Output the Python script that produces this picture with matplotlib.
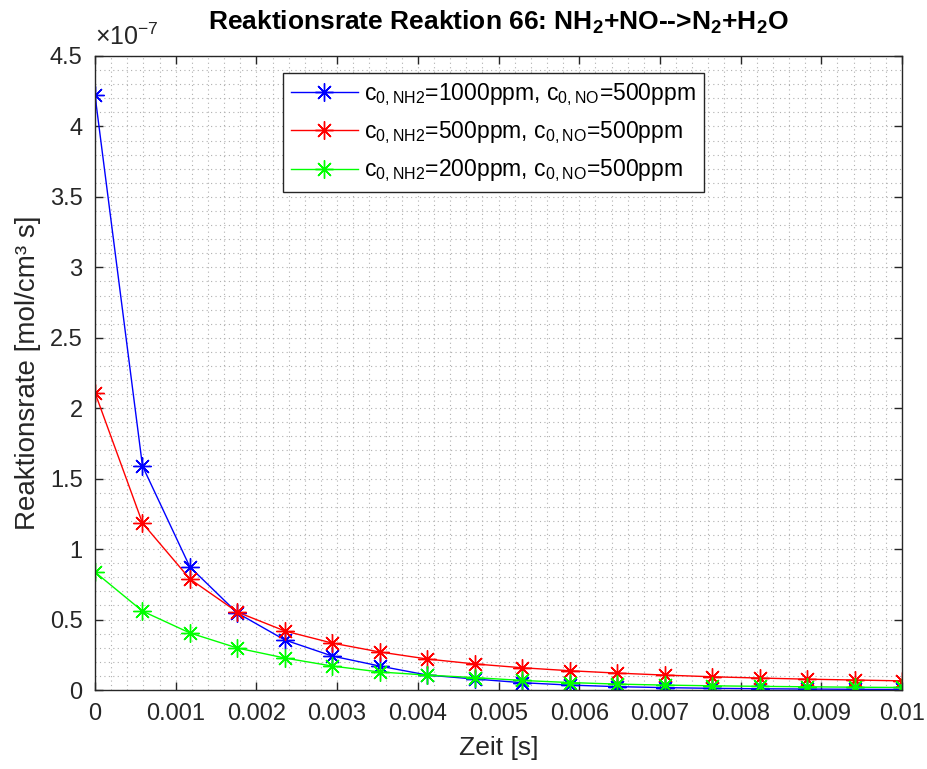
import numpy as np
import matplotlib
matplotlib.use("Agg")
import matplotlib.pyplot as plt
from matplotlib.ticker import MultipleLocator, FuncFormatter

plt.rcParams['font.family'] = ['Liberation Sans', 'DejaVu Sans']
plt.rcParams['mathtext.fontset'] = 'custom'
plt.rcParams['mathtext.rm'] = 'Liberation Sans'
plt.rcParams['mathtext.bf'] = 'Liberation Sans:bold'
plt.rcParams['mathtext.default'] = 'regular'

#%% Data (rates in mol/cm^3 s)
zeit = [0, 0.000588, 0.001176, 0.001765, 0.002353, 0.002941, 0.003529, 0.004118, 0.004706,
        0.005294, 0.005882, 0.006471, 0.007059, 0.007647, 0.008235, 0.008824, 0.009412, 0.01]
rate_nh2_1000 = np.array([4.22, 1.59, 0.873, 0.546, 0.355, 0.241, 0.170, 0.106, 0.078,
                          0.052, 0.035, 0.024, 0.017, 0.012, 0.009, 0.007, 0.005, 0.004]) * 1e-7
rate_nh2_500 = np.array([2.11, 1.185, 0.788, 0.553, 0.419, 0.333, 0.270, 0.220, 0.185,
                         0.158, 0.137, 0.120, 0.106, 0.094, 0.085, 0.077, 0.071, 0.065]) * 1e-7
rate_nh2_200 = np.array([0.837, 0.56, 0.405, 0.298, 0.227, 0.170, 0.128, 0.106, 0.088,
                         0.068, 0.053, 0.042, 0.035, 0.030, 0.026, 0.023, 0.020, 0.018]) * 1e-7

labels = [r'c$_{0,NH2}$=1000ppm, c$_{0,NO}$=500ppm',
          r'c$_{0,NH2}$=500ppm, c$_{0,NO}$=500ppm',
          r'c$_{0,NH2}$=200ppm, c$_{0,NO}$=500ppm']
colors = ['#0000ff', '#ff0000', '#00ff00']

#%% Plot
fig = plt.figure(figsize=(9.28, 7.69), dpi=100)
ax = fig.add_axes([0.1024, 0.1027, 0.8696, 0.8245])
axcol = '#262626'
star = (8, 2, 0)
for rate, lab, col in zip([rate_nh2_1000, rate_nh2_500, rate_nh2_200], labels, colors):
    ax.plot(zeit, rate, color=col, lw=1.0, marker=star, ms=13, mew=1.0, label=lab)

ax.set_xlim(0, 0.01)
ax.set_ylim(0, 4.5e-7)
ax.xaxis.set_major_locator(MultipleLocator(0.001))
ax.xaxis.set_minor_locator(MultipleLocator(0.0002))
ax.yaxis.set_major_locator(MultipleLocator(0.5e-7))
ax.yaxis.set_minor_locator(MultipleLocator(0.1e-7))
ax.xaxis.set_major_formatter(FuncFormatter(lambda v, p: '%g' % round(v, 6)))
ax.yaxis.set_major_formatter(FuncFormatter(lambda v, p: '%g' % round(v / 1e-7, 4)))
ax.grid(which='both', ls=(0, (1, 3)), color='#b0b0b0', lw=0.8)
ax.tick_params(which='major', direction='in', length=6, width=1, top=True, right=True,
               labelsize=17, colors=axcol, pad=9)
ax.tick_params(which='minor', length=0)
for s in ax.spines.values():
    s.set_color(axcol)
    s.set_linewidth(1.0)

ax.text(0.0, 1.01, r'$\times$10$^{-7}$', transform=ax.transAxes, fontsize=18,
        color=axcol, ha='left', va='bottom')
ax.set_xlabel('Zeit [s]', fontsize=19, color=axcol, labelpad=8)
ax.set_ylabel('Reaktionsrate [mol/cm³ s]', fontsize=20, color=axcol, labelpad=6)
ax.set_title(r'Reaktionsrate Reaktion 66: NH$_\mathbf{2}$+NO-->N$_\mathbf{2}$+H$_\mathbf{2}$O',
             fontsize=19, fontweight='bold', pad=19)

leg = ax.legend(loc='upper left', bbox_to_anchor=(0.233, 0.973), borderaxespad=0,
                fontsize=16.5, fancybox=False, framealpha=1, edgecolor=axcol,
                handlelength=2.9, handletextpad=0.3, labelspacing=0.5, borderpad=0.35)
leg.get_frame().set_linewidth(1.0)

fig.savefig('out.png', dpi=100)
